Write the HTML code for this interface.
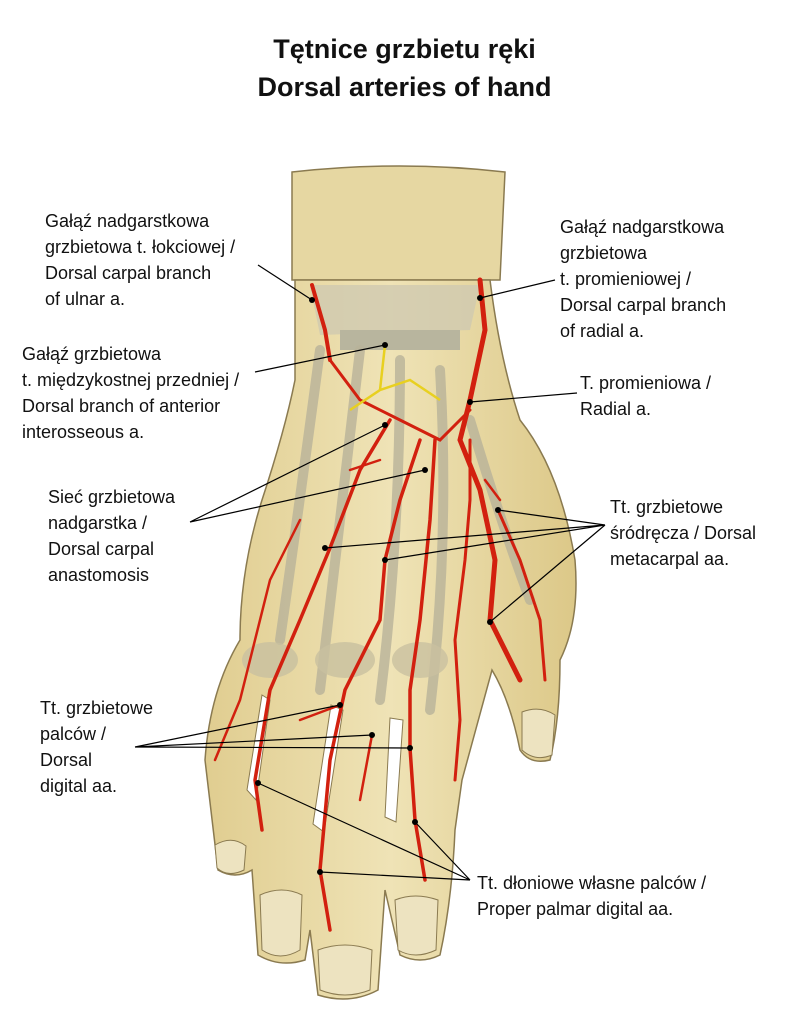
<!DOCTYPE html>
<html><head><meta charset="utf-8">
<style>
html,body{margin:0;padding:0;background:#fff;}
body{width:809px;height:1024px;overflow:hidden;position:relative;font-family:"Liberation Sans",sans-serif;}
.t{position:absolute;font-size:18px;line-height:26px;color:#111;white-space:nowrap;}
h1{position:absolute;left:0;width:809px;top:30px;margin:0;text-align:center;font-size:27px;line-height:38px;font-weight:bold;color:#111;}
svg{position:absolute;left:0;top:0;}
</style></head><body>
<svg width="809" height="1024" viewBox="0 0 809 1024">
<defs>
<linearGradient id="sk" x1="0" x2="1"><stop offset="0" stop-color="#e0cd90"/><stop offset="0.5" stop-color="#efe3b6"/><stop offset="1" stop-color="#dcc888"/></linearGradient>
</defs>
<path d="M292 172 Q400 160 505 172 L500 280 L292 280 Z" fill="#e6d7a2" stroke="#8a7a50" stroke-width="1.5"/>
<path d="M295 280 L490 280 Q500 360 520 420 Q560 470 575 560 Q580 620 560 660 Q560 720 550 760 Q530 765 520 750 Q510 700 492 670 L462 780 L455 830 Q452 900 440 955 Q420 965 400 955 L385 890 L378 990 Q350 1005 318 995 L310 930 L305 960 Q280 968 258 955 L252 870 Q235 880 218 870 L205 760 Q210 690 240 640 Q240 570 262 500 Q285 430 295 380 Z" fill="url(#sk)" stroke="#8a7a50" stroke-width="1.5"/>
<path d="M262 695 L270 700 L256 800 L247 790 Z" fill="#fff" stroke="#8a7a50"/>
<path d="M331 705 L343 710 L324 832 L313 824 Z" fill="#fff" stroke="#8a7a50"/>
<path d="M390 718 L403 720 L396 822 L385 817 Z" fill="#fff" stroke="#8a7a50"/>
<path d="M310 285 L480 285 L470 330 L320 335 Z" fill="#cfc9b0" opacity="0.8"/>
<rect x="340" y="330" width="120" height="20" fill="#b8b59e"/>
<g stroke="#b9b39a" stroke-width="10" fill="none" opacity="0.8" stroke-linecap="round">
<path d="M320 350 Q300 500 280 640"/><path d="M360 350 Q340 520 320 690"/><path d="M400 360 Q400 540 380 700"/><path d="M440 370 Q450 540 430 710"/><path d="M470 420 Q500 520 530 600"/>
</g>
<g fill="#c9c1a0" opacity="0.8"><ellipse cx="270" cy="660" rx="28" ry="18"/><ellipse cx="345" cy="660" rx="30" ry="18"/><ellipse cx="420" cy="660" rx="28" ry="18"/></g>
<g fill="#ede3c0" stroke="#8a7a50"><path d="M215 845 Q232 835 246 846 L244 870 Q228 878 217 868Z"/><path d="M260 895 Q282 885 302 895 L300 950 Q280 962 262 950Z"/><path d="M318 950 Q345 940 372 950 L370 990 Q345 1000 320 990Z"/><path d="M395 900 Q415 892 438 900 L436 950 Q415 960 398 950Z"/><path d="M522 712 Q540 705 555 715 L552 755 Q535 762 522 750Z"/></g>
<g stroke="#d2200f" fill="none" stroke-linecap="round">
<path d="M480 280 L485 330 L470 400 L460 440 L480 490 L495 560 L490 620 L520 680" stroke-width="5"/>
<path d="M312 285 L325 330 L330 360" stroke-width="4"/>
<path d="M390 420 L360 470 L330 548 L300 620 L270 690 L255 780 L262 830" stroke-width="3.5"/>
<path d="M420 440 L400 500 L385 560 L380 620 L345 690 L330 760 L320 870 L330 930" stroke-width="3.5"/>
<path d="M435 440 L430 520 L420 620 L410 690 L410 748 L415 820 L425 880" stroke-width="3.5"/>
<path d="M470 440 L470 500 L465 560 L455 640 L460 720 L455 780" stroke-width="3"/>
<path d="M498 510 L520 560 L540 620 L545 680" stroke-width="3"/>
<path d="M330 360 L360 400 L400 420 L440 440 L470 410" stroke-width="3"/>
<path d="M300 520 L270 580 L255 640 L240 700 L215 760" stroke-width="2.5"/>
<path d="M380 460 L350 470 M372 735 L360 800 M340 705 L300 720 M485 480 L500 500" stroke-width="2.5"/>
</g>
<g stroke="#e8d020" stroke-width="2.5" fill="none"><path d="M385 345 L380 390 L350 410 M380 390 L410 380 L440 400"/></g>
<g stroke="#000" stroke-width="1.2" fill="none">
<path d="M258 265 L312 300"/><path d="M555 280 L480 298"/><path d="M255 372 L385 345"/><path d="M577 393 L470 402"/>
<path d="M190 522 L385 425 M190 522 L425 470"/>
<path d="M605 525 L325 548 M605 525 L385 560 M605 525 L498 510 M605 525 L490 622"/>
<path d="M135 747 L340 705 M135 747 L372 735 M135 747 L410 748"/>
<path d="M470 880 L258 783 M470 880 L320 872 M470 880 L415 822"/>
</g>
<g fill="#000"><circle cx="312" cy="300" r="3"/><circle cx="480" cy="298" r="3"/><circle cx="385" cy="345" r="3"/><circle cx="470" cy="402" r="3"/><circle cx="385" cy="425" r="3"/><circle cx="425" cy="470" r="3"/><circle cx="325" cy="548" r="3"/><circle cx="385" cy="560" r="3"/><circle cx="498" cy="510" r="3"/><circle cx="490" cy="622" r="3"/><circle cx="340" cy="705" r="3"/><circle cx="372" cy="735" r="3"/><circle cx="410" cy="748" r="3"/><circle cx="258" cy="783" r="3"/><circle cx="320" cy="872" r="3"/><circle cx="415" cy="822" r="3"/></g>
</svg>
<h1>Tętnice grzbietu ręki<br>Dorsal arteries of hand</h1>
<div class="t" style="left:45px;top:208px">Gałąź nadgarstkowa<br>grzbietowa t. łokciowej /<br>Dorsal carpal branch<br>of ulnar a.</div>
<div class="t" style="left:560px;top:214px">Gałąź nadgarstkowa<br>grzbietowa<br>t. promieniowej /<br>Dorsal carpal branch<br>of radial a.</div>
<div class="t" style="left:22px;top:341px">Gałąź grzbietowa<br>t. międzykostnej przedniej /<br>Dorsal branch of anterior<br>interosseous a.</div>
<div class="t" style="left:580px;top:370px">T. promieniowa /<br>Radial a.</div>
<div class="t" style="left:48px;top:484px">Sieć grzbietowa<br>nadgarstka /<br>Dorsal carpal<br>anastomosis</div>
<div class="t" style="left:610px;top:494px">Tt. grzbietowe<br>śródręcza / Dorsal<br>metacarpal aa.</div>
<div class="t" style="left:40px;top:695px">Tt. grzbietowe<br>palców /<br>Dorsal<br>digital aa.</div>
<div class="t" style="left:477px;top:870px">Tt. dłoniowe własne palców /<br>Proper palmar digital aa.</div>
</body></html>
